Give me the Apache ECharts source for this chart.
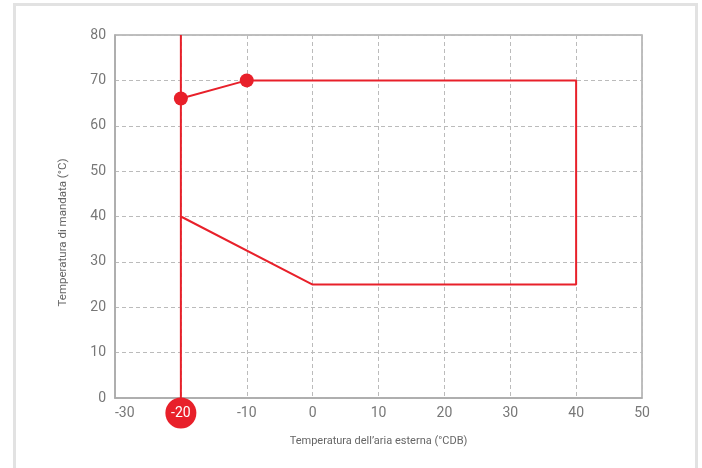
<!DOCTYPE html>
<html>
<head>
<meta charset="utf-8">
<script src="https://cdn.jsdelivr.net/npm/echarts@6/dist/echarts.min.js"></script>
<style>
  html, body { margin: 0; padding: 0; background: #fff; }
  #chart { width: 702px; height: 468px; }
</style>
</head>
<body>
<div id="chart"></div>
<script>
// limiti di funzionamento
const envelope = [[-20, 66], [-10, 70], [40, 70], [40, 25], [0, 25], [-20, 40]]
const markers = [[-20, 66], [-10, 70]]
const minTempLine = [[-20, 0], [-20, 80]]
const highlight = [[-20, 0]]
const xRange = [-30, 50]
const yRange = [0, 80]

const RED = '#e8202a'
const GREY = '#777'

let chart = echarts.init(document.getElementById('chart'))
let option = {
  animation: false,
  textStyle: { fontFamily: 'Roboto' },
  graphic: [
    {
      type: 'rect',
      shape: { x: 14.5, y: 4.5, width: 682, height: 480 },
      style: { fill: 'none', stroke: '#e2e2e2', lineWidth: 3 },
      silent: true
    }
  ],
  grid: {
    left: 115, right: 60, top: 35, bottom: 70,
    show: true, borderColor: '#aaa', borderWidth: 1.5
  },
  xAxis: {
    type: 'value',
    min: xRange[0], max: xRange[1], interval: 10,
    name: 'Temperatura dell’aria esterna (°CDB)',
    nameLocation: 'middle', nameGap: 38,
    nameTextStyle: { color: '#666', fontSize: 11 },
    axisLine: { lineStyle: { color: '#aaa', width: 1.5 } },
    axisTick: { show: false },
    axisLabel: {
      color: GREY, fontSize: 14, margin: 8,
      alignMinLabel: 'left',
      // il valore evidenziato è disegnato nel cerchio rosso
      formatter: (v) => (v === highlight[0][0] ? '' : String(v))
    },
    splitLine: { lineStyle: { color: '#bbb', type: [4, 3] } }
  },
  yAxis: {
    type: 'value',
    min: yRange[0], max: yRange[1], interval: 10,
    name: 'Temperatura di mandata (°C)',
    nameLocation: 'middle', nameGap: 46,
    nameTextStyle: { color: '#666', fontSize: 11.5, padding: [0, 32, 0, 0] },
    axisLine: { show: true, onZero: false, lineStyle: { color: '#aaa', width: 1.5 } },
    axisTick: { show: false },
    axisLabel: { color: GREY, fontSize: 14, margin: 9 },
    splitLine: { lineStyle: { color: '#bbb', type: [4, 3] } }
  },
  series: [
    {
      type: 'line',
      data: minTempLine,
      symbol: 'none',
      lineStyle: { color: RED, width: 2 }
    },
    {
      type: 'line',
      data: envelope,
      symbol: 'none',
      lineStyle: { color: RED, width: 2 }
    },
    {
      type: 'scatter',
      data: markers,
      symbolSize: 14,
      itemStyle: { color: RED, opacity: 1 }
    },
    {
      type: 'scatter',
      data: highlight,
      symbolSize: 31,
      symbolOffset: [0, 15],
      clip: false,
      z: 10,
      itemStyle: { color: RED, opacity: 1 },
      label: {
        show: true,
        position: 'inside',
        formatter: (p) => String(p.value[0]),
        color: '#fff',
        fontSize: 14
      }
    }
  ]
}
chart.setOption(option)
</script>
</body>
</html>
